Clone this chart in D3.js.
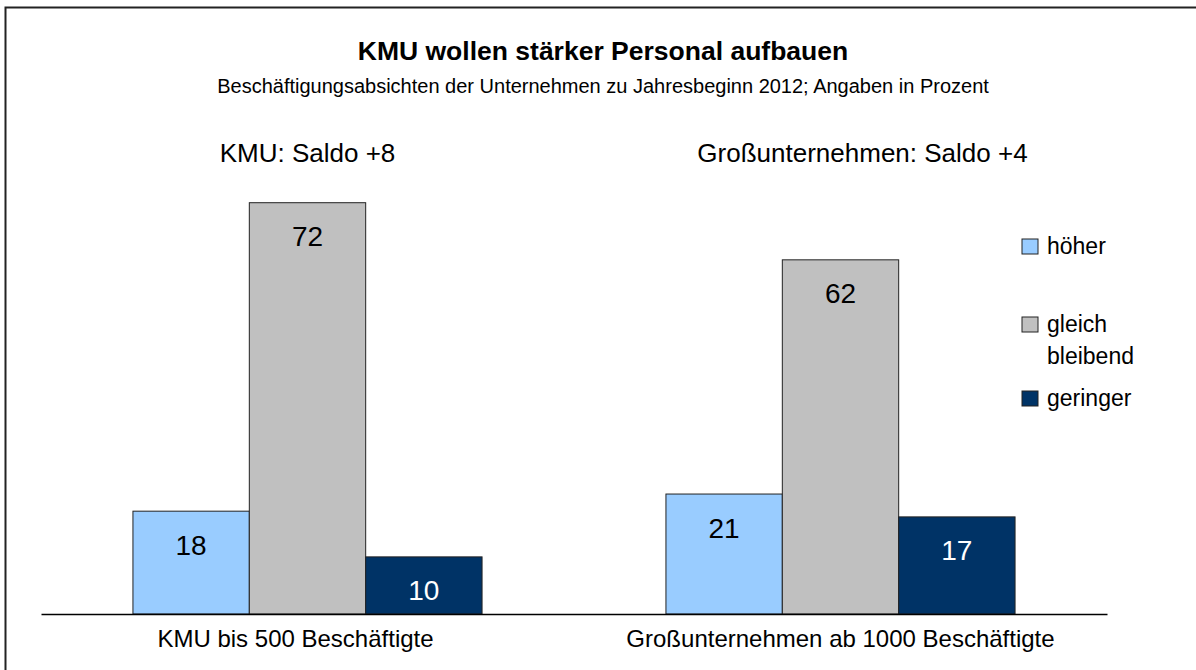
<html>
<head>
    <meta charset="utf-8">
    <script src="https://d3js.org/d3.v7.min.js"></script>
</head>
<style>
    body { margin: 0; background: white; }
    svg { font-family: "Liberation Sans", Arial, sans-serif; }
    .bar { stroke: #222; stroke-width: 1px; }
    .axis path { stroke: black; stroke-width: 1.5px; }
    .axis text { font-size: 24px; fill: black; }
</style>
<body>
    <svg id="chart" width="1196" height="670"></svg>

    <script>
        // Beschäftigungsabsichten 2012
        const categories = ["KMU bis 500 Beschäftigte", "Großunternehmen ab 1000 Beschäftigte"];
        const groupTitles = ["KMU: Saldo +8", "Großunternehmen: Saldo +4"];
        const seriesNames = ["höher", "gleich bleibend", "geringer"];
        const hoeher = [18, 21];
        const gleich = [72, 62];
        const geringer = [10, 17];
        const colors = ["#99ccff", "#c0c0c0", "#003366"];

        const svg = d3.select("svg#chart");

        // frame (only left + top edge visible)
        svg.append("rect")
           .attr("x", 5.5).attr("y", 7.5)
           .attr("width", 1400).attr("height", 900)
           .attr("fill", "none")
           .attr("stroke", "#222")
           .attr("stroke-width", 2);

        svg.append("text")
           .attr("x", 603).attr("y", 60)
           .attr("text-anchor", "middle")
           .style("font-size", "26.5px")
           .style("font-weight", "bold")
           .text("KMU wollen stärker Personal aufbauen");

        svg.append("text")
           .attr("x", 603).attr("y", 93)
           .attr("text-anchor", "middle")
           .style("font-size", "20px")
           .text("Beschäftigungsabsichten der Unternehmen zu Jahresbeginn 2012; Angaben in Prozent");

        const x0 = d3.scaleBand().domain(categories).range([41, 1107])
                     .paddingInner(0.345).paddingOuter(0.1725);
        const x1 = d3.scaleBand().domain(seriesNames).range([0, x0.bandwidth()]);
        const y = d3.scaleLinear().domain([0, 80]).range([614, 157]);

        const rows = categories.map((c, i) => ({
            category: c,
            values: [hoeher[i], gleich[i], geringer[i]].map((v, j) => ({ key: seriesNames[j], value: v, idx: j }))
        }));

        // group titles above each cluster
        svg.selectAll("text.group-title").data(groupTitles)
           .join("text")
           .attr("class", "group-title")
           .attr("x", (d, i) => x0(categories[i]) + x0.bandwidth() / 2)
           .attr("dx", (d, i) => i === 0 ? 0 : 22)
           .attr("y", 162)
           .attr("text-anchor", "middle")
           .style("font-size", "26px")
           .text(d => d);

        const groups = svg.selectAll("g.group").data(rows)
           .join("g")
           .attr("class", "group")
           .attr("transform", d => "translate(" + x0(d.category) + ",0)");

        groups.selectAll("rect.bar").data(d => d.values)
           .join("rect")
           .attr("class", "bar")
           .attr("x", d => x1(d.key))
           .attr("y", d => y(d.value))
           .attr("width", x1.bandwidth())
           .attr("height", d => y(0) - y(d.value))
           .attr("fill", d => colors[d.idx]);

        groups.selectAll("text.value").data(d => d.values)
           .join("text")
           .attr("class", "value")
           .attr("x", d => x1(d.key) + x1.bandwidth() / 2)
           .attr("y", d => y(d.value) + 43.5)
           .attr("text-anchor", "middle")
           .style("font-size", "28px")
           .attr("fill", d => d.idx === 2 ? "white" : "black")
           .text(d => d.value);

        // category axis
        const xAxis = svg.append("g")
           .attr("class", "axis")
           .attr("transform", "translate(0," + y(0) + ")")
           .call(d3.axisBottom(x0).tickSize(0).tickSizeOuter(0));
        xAxis.selectAll("text")
           .attr("y", 33).attr("dy", 0)
           .attr("dx", (d, i) => i === 0 ? -12 : 0)
           .style("font-family", "Liberation Sans, Arial, sans-serif");

        // legend
        const legendY = [239, 317, 391];
        const legendLines = [["höher"], ["gleich", "bleibend"], ["geringer"]];
        const legend = svg.selectAll("g.legend").data(seriesNames)
           .join("g")
           .attr("class", "legend")
           .attr("transform", (d, i) => "translate(1022," + legendY[i] + ")");
        legend.append("rect")
           .attr("width", 16).attr("height", 15)
           .attr("fill", (d, i) => colors[i])
           .attr("stroke", "#222");
        legend.each(function(d, i) {
            const g = d3.select(this);
            legendLines[i].forEach((line, k) => {
                g.append("text")
                 .attr("x", 25)
                 .attr("y", 15 + k * 32)
                 .style("font-size", "23px")
                 .text(line);
            });
        });
    </script>
</body>
</html>
